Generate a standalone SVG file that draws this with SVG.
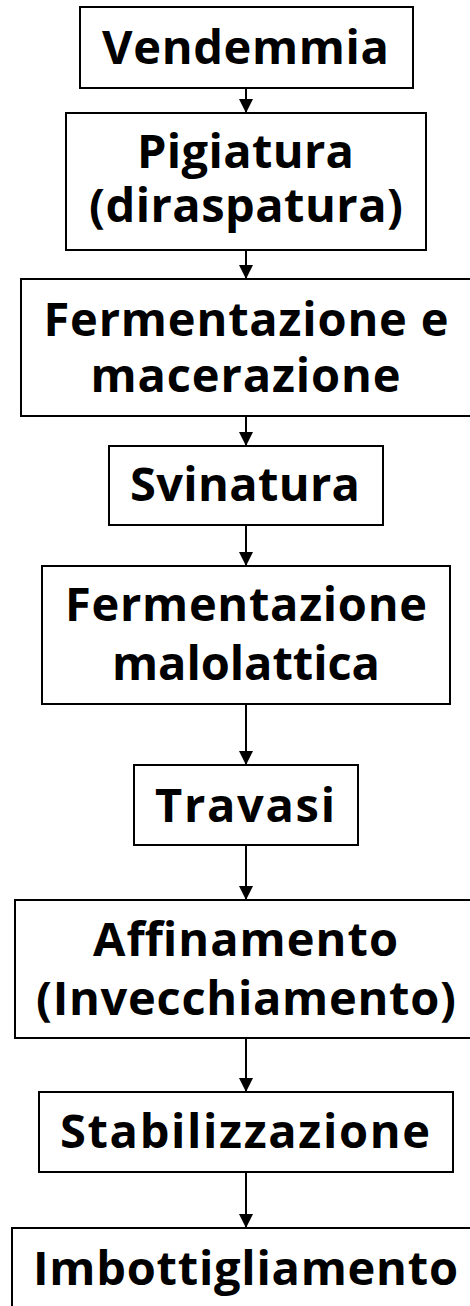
<svg xmlns="http://www.w3.org/2000/svg" width="470" height="1306" viewBox="0 0 470 1306">
<defs>
<style>
.box{fill:#fff;stroke:#000;stroke-width:2}
.t{font-family:"Open Sans","Noto Sans","DejaVu Sans",sans-serif;font-weight:700;font-size:47px;fill:#000;text-anchor:middle}
.c{stroke:#000;stroke-width:2;fill:none;marker-end:url(#ah)}
</style>
<marker id="ah" markerUnits="userSpaceOnUse" markerWidth="14" markerHeight="14" refX="14" refY="7" orient="auto" viewBox="0 0 14 14">
<path d="M0,0 L14,7 L0,14 Z" fill="#000"/>
</marker>
</defs>
<rect width="470" height="1306" fill="#fff"/>
<g id="connectors">
<line class="c" x1="246" y1="88" x2="246" y2="113"/>
<line class="c" x1="246" y1="250" x2="246" y2="279"/>
<line class="c" x1="246" y1="416" x2="246" y2="446"/>
<line class="c" x1="246" y1="525" x2="246" y2="566"/>
<line class="c" x1="246" y1="704" x2="246" y2="765"/>
<line class="c" x1="246" y1="845" x2="246" y2="900"/>
<line class="c" x1="246" y1="1038" x2="246" y2="1092"/>
<line class="c" x1="246" y1="1172" x2="246" y2="1228"/>
</g>
<g id="n1"><rect class="box" x="80" y="7" width="333" height="81"/><text class="t" x="245.5" y="64" textLength="287">Vendemmia</text></g>
<g id="n2"><rect class="box" x="66" y="113" width="360" height="137"/><text class="t" x="245.5" y="168" textLength="217">Pigiatura</text><text class="t" x="246" y="222" textLength="314">(diraspatura)</text></g>
<g id="n3"><rect class="box" x="21" y="279" width="452" height="137"/><text class="t" x="246" y="336" textLength="405">Fermentazione e</text><text class="t" x="245.5" y="392" textLength="310">macerazione</text></g>
<g id="n4"><rect class="box" x="109" y="446" width="274" height="79"/><text class="t" x="245" y="501" textLength="230">Svinatura</text></g>
<g id="n5"><rect class="box" x="42" y="566" width="408" height="138"/><text class="t" x="246" y="621" textLength="362">Fermentazione</text><text class="t" x="246" y="680" textLength="268">malolattica</text></g>
<g id="n6"><rect class="box" x="134" y="765" width="224" height="80"/><text class="t" x="245" y="822" textLength="180">Travasi</text></g>
<g id="n7"><rect class="box" x="15" y="900" width="458" height="138"/><text class="t" x="245.5" y="956" textLength="305">Affinamento</text><text class="t" x="246" y="1015" textLength="420">(Invecchiamento)</text></g>
<g id="n8"><rect class="box" x="39" y="1092" width="414" height="80"/><text class="t" x="245" y="1148" textLength="370">Stabilizzazione</text></g>
<g id="n9"><rect class="box" x="12" y="1228" width="461" height="90"/><text class="t" x="245.5" y="1285" textLength="425">Imbottigliamento</text></g>
</svg>
